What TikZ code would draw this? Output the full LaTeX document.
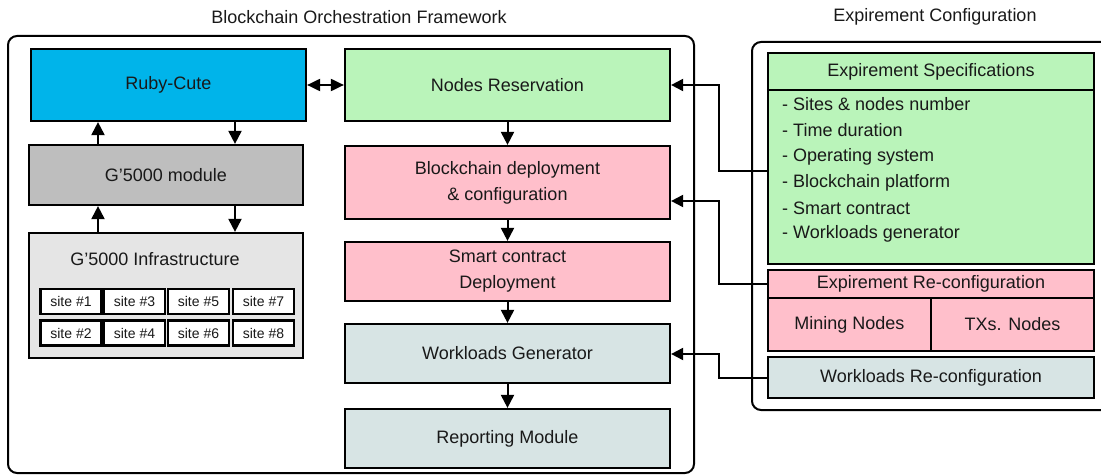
\documentclass[tikz,border=0pt]{standalone}
\usepackage{fontspec}
\setmainfont{Liberation Sans}
\usetikzlibrary{arrows.meta}
\definecolor{rubyc}{RGB}{0,180,234}
\definecolor{greenc}{RGB}{186,244,186}
\definecolor{pinkc}{RGB}{255,191,203}
\definecolor{grayc}{RGB}{190,190,190}
\definecolor{lgrayc}{RGB}{229,229,229}
\definecolor{bluegc}{RGB}{215,228,228}
\definecolor{txtc}{RGB}{25,25,25}
\tikzset{
  box/.style={draw=black, line width=2.2pt, inner sep=0pt, text=txtc, align=center,
    font=\fontsize{18}{26}\selectfont},
  sitebox/.style={draw=black, line width=2.2pt, fill=white, inner sep=0pt, text=txtc,
    minimum width=61pt, minimum height=25pt, font=\fontsize{14}{16}\selectfont},
  lbl/.style={inner sep=0pt, text=txtc, font=\fontsize{18}{26}\selectfont},
  frame/.style={draw=black, line width=2pt, rounded corners=9pt},
  arr/.style={line width=2pt, -{Triangle[length=13pt,width=13pt]}},
  darr/.style={line width=2pt, {Triangle[length=13pt,width=12pt]}-{Triangle[length=13pt,width=12pt]}},
  conn/.style={line width=2pt, -{Triangle[length=12pt,width=12pt]}},
}
\begin{document}
\begin{tikzpicture}[x=1pt,y=-1pt]
\useasboundingbox (0,0) rectangle (1101,476);
\clip (0,0) rectangle (1101,476);
% frames
\draw[frame] (8,36) rectangle (694,473);
\draw[frame] (752,42) rectangle (1120,410);
\node[lbl] (t1) at (359,17) {Blockchain Orchestration Framework};
\node[lbl] (t2) at (935,17) {Expirement Configuration};
% left column
\node[box, fill=rubyc, minimum width=275pt, minimum height=72pt] (ruby) at (168.5,85) {Ruby-Cute};
\node[box, fill=grayc, minimum width=274pt, minimum height=60pt] (g5k) at (166,175) {G’5000 module};
\node[box, fill=lgrayc, minimum width=274pt, minimum height=125pt] (infra) at (166,295.5) {};
\node[lbl] (infratxt) at (155,259) {G’5000 Infrastructure};
\node[sitebox] (s1) at (71,301.5) {site \#1};
\node[sitebox] (s3) at (134.5,301.5) {site \#3};
\node[sitebox] (s5) at (198.5,301.5) {site \#5};
\node[sitebox] (s7) at (263.5,301.5) {site \#7};
\node[sitebox] (s2) at (71,333) {site \#2};
\node[sitebox] (s4) at (134.5,333) {site \#4};
\node[sitebox] (s6) at (198.5,333) {site \#6};
\node[sitebox] (s8) at (263.5,333) {site \#8};
% middle column
\node[box, fill=greenc, minimum width=325pt, minimum height=72pt] (nres) at (507.5,85) {Nodes Reservation};
\node[box, fill=pinkc, minimum width=325pt, minimum height=73pt] (bdep) at (507.5,182.5) {Blockchain deployment\\\& configuration};
\node[box, fill=pinkc, minimum width=325pt, minimum height=59pt] (scd) at (507.5,271.5) {Smart contract\\Deployment};
\node[box, fill=bluegc, minimum width=325pt, minimum height=59pt] (wgen) at (507.5,353.5) {Workloads Generator};
\node[box, fill=bluegc, minimum width=325pt, minimum height=59pt] (rep) at (507.5,438.5) {Reporting Module};
% right column
\node[box, fill=greenc, minimum width=326pt, minimum height=211pt] (spec) at (931,158.5) {};
\draw[line width=2.2pt] (spec.west |- 0,90) -- (spec.east |- 0,90);
\node[lbl] (spect) at (931,71.5) {Expirement Specifications};
\node[lbl, anchor=west] (i1) at (782,104) {- Sites \& nodes number};
\node[lbl, anchor=west] (i2) at (782,130) {- Time duration};
\node[lbl, anchor=west] (i3) at (782,156.5) {- Operating system};
\node[lbl, anchor=west] (i4) at (782,182.5) {- Blockchain platform};
\node[lbl, anchor=west] (i5) at (782,208) {- Smart contract};
\node[lbl, anchor=west] (i6) at (782,234) {- Workloads generator};
\node[box, fill=pinkc, minimum width=326pt, minimum height=28pt] (reconf) at (931,284) {Expirement Re-configuration};
\node[box, fill=pinkc, minimum width=163pt, minimum height=53pt] (mining) at (849.5,324.5) {Mining Nodes};
\node[box, fill=pinkc, minimum width=163pt, minimum height=53pt] (txs) at (1012.5,324.5) {TXs. Nodes};
\node[box, fill=bluegc, minimum width=326pt, minimum height=41pt] (wrec) at (931,377.5) {Workloads Re-configuration};
% vertical arrows left
\draw[arr] ([xshift=66.5pt]ruby.south) -- ([xshift=69pt]g5k.north);
\draw[arr] ([xshift=-68pt]g5k.north) -- ([xshift=-70.5pt]ruby.south);
\draw[arr] ([xshift=-68pt]infra.north) -- ([xshift=-68pt]g5k.south);
\draw[arr] ([xshift=69pt]g5k.south) -- ([xshift=69pt]infra.north);
\draw[darr] (ruby.east) -- (nres.west);
% vertical arrows middle
\draw[arr] (nres.south) -- (bdep.north);
\draw[arr] (bdep.south) -- (scd.north);
\draw[arr] (scd.south) -- (wgen.north);
\draw[arr] (wgen.south) -- (rep.north);
% connectors from configuration
\coordinate (c1) at (719,171);
\coordinate (c2) at (719,284);
\coordinate (c3) at (719,377.5);
\draw[conn] (spec.west |- c1) -- (c1) -- (c1 |- nres.east) -- (nres.east);
\draw[conn] (reconf.west) -- (c2) -- (719,201) -- (bdep.east |- 0,201);
\draw[conn] (wrec.west) -- (c3) -- (719,354) -- (wgen.east |- 0,354);
\end{tikzpicture}
\end{document}
